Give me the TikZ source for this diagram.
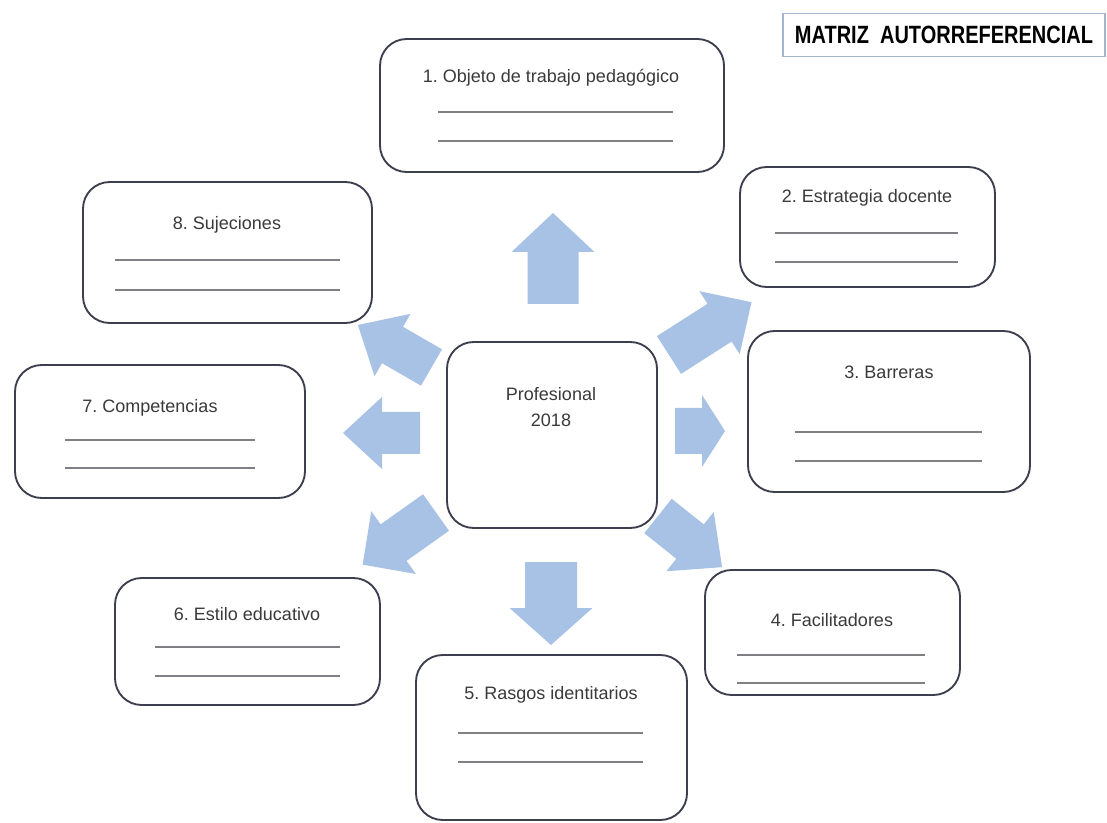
\documentclass[tikz,border=0pt]{standalone}
\usepackage{fontspec}
\usepackage{graphicx}
\setmainfont{Liberation Sans}
\frenchspacing
\definecolor{boxc}{HTML}{3E3F4E}
\definecolor{arrowc}{HTML}{A8C2E6}
\definecolor{linec}{HTML}{7F7F84}
\definecolor{titlec}{HTML}{A3B4CC}
\definecolor{textc}{HTML}{3A3A3A}
\tikzset{
  box/.style={draw=boxc, line width=1.4pt, rounded corners=20pt, fill=white, inner sep=0pt},
  lbl/.style={text=textc, font=\fontsize{13.5}{15}\selectfont, inner sep=0pt},
  blank/.style={draw=linec, line width=0.9pt},
  pics/fatarrow/.style n args={4}{code={
    \fill[arrowc] (0,-#3) -- ({#1-#2},-#3) -- ({#1-#2},-#4) -- (#1,0) -- ({#1-#2},#4) -- ({#1-#2},#3) -- (0,#3) -- cycle;}}
}
\newcommand{\mybox}[5]{% name, x1, y1, x2, y2
  \node[box, minimum width={(#4-#2)*0.75pt}, minimum height={(#5-#3)*0.75pt}] (#1) at ({(#2+#4)/2},{(#3+#5)/2}) {};}
\begin{document}
\begin{tikzpicture}[x=0.75pt,y=-0.75pt]
\useasboundingbox[fill=white] (0,0) rectangle (1107,823);
% title
\node[draw=titlec, line width=0.9pt, minimum width={322*0.75pt}, minimum height={43*0.75pt}, inner sep=0pt] (title) at (944,35)
  {\scalebox{1}[1.25]{\fontsize{15}{17}\selectfont\bfseries MATRIZ\ \ AUTORREFERENCIAL}};
% arrows
\pic[rotate=90] (aup) at (553,304) {fatarrow={91}{39}{25.5}{41.5}};
\pic[rotate=270] (adown) at (551,562) {fatarrow={83}{37}{26}{41.5}};
\pic[rotate=180] (aleft) at (420,433) {fatarrow={77}{39}{21}{36}};
\pic[rotate=0] (aright) at (675,431) {fatarrow={50}{23}{23}{36}};
\pic[rotate=32.6] (aur) at (669,355) {fatarrow={98}{38}{22.4}{37.4}};
\pic[rotate=150] (aul) at (431.5,367.5) {fatarrow={85}{40}{21}{36}};
\pic[rotate=215.4] (all) at (436,512.5) {fatarrow={90}{38}{22.4}{38.5}};
\pic[rotate=-38.6] (alr) at (658,516) {fatarrow={82}{41}{22}{38}};
% center
\mybox{c}{447}{342}{657}{528}
\node[lbl, align=center] (ctext) at (551,407) {Profesional\\[4pt]2018};
% boxes
\mybox{b1}{380}{39}{724}{172}
\node[lbl] (t1) at (551,78) {1. Objeto de trabajo pedagógico};
\draw[blank] (438,112) -- (673,112);
\draw[blank] (438,141) -- (673,141);

\mybox{b2}{740}{167}{995}{287}
\node[lbl] (t2) at (867,198) {2. Estrategia docente};
\draw[blank] (775,233) -- (958,233);
\draw[blank] (775,262) -- (958,262);

\mybox{b3}{748}{331}{1030}{492}
\node[lbl] (t3) at (889,372) {3. Barreras};
\draw[blank] (795,432) -- (982,432);
\draw[blank] (795,461) -- (982,461);

\mybox{b4}{705}{570}{960}{695}
\node[lbl] (t4) at (832,620) {4. Facilitadores};
\draw[blank] (737,655) -- (925,655);
\draw[blank] (737,683) -- (925,683);

\mybox{b5}{416}{655}{687}{820}
\node[lbl] (t5) at (551,695) {5. Rasgos identitarios};
\draw[blank] (458,733) -- (643,733);
\draw[blank] (458,762) -- (643,762);

\mybox{b6}{115}{578}{380}{705}
\node[lbl] (t6) at (247,614) {6. Estilo educativo};
\draw[blank] (155,647) -- (340,647);
\draw[blank] (155,676) -- (340,676);

\mybox{b7}{15}{365}{305}{498}
\node[lbl] (t7) at (150,408) {7. Competencias};
\draw[blank] (65,440) -- (255,440);
\draw[blank] (65,468) -- (255,468);

\mybox{b8}{83}{182}{372}{323}
\node[lbl] (t8) at (227,225) {8. Sujeciones};
\draw[blank] (115,260) -- (340,260);
\draw[blank] (115,290) -- (340,290);
\end{tikzpicture}
\end{document}
